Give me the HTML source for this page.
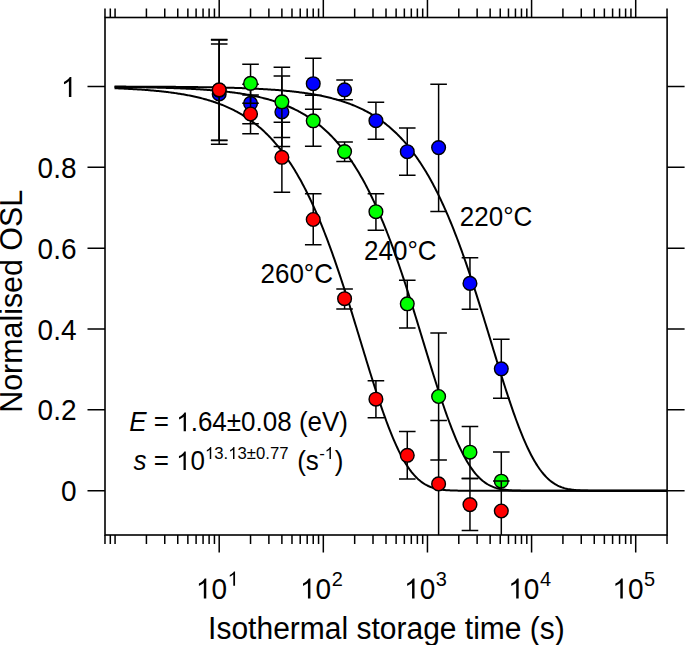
<!DOCTYPE html><html><head><meta charset="utf-8"><style>html,body{margin:0;padding:0;background:#fff;}svg{display:block;}text{font-family:"Liberation Sans",sans-serif;fill:#000;}.o{fill:none;}</style></head><body>
<svg width="685" height="645" viewBox="0 0 685 645">
<defs><clipPath id="pc"><rect x="105.00" y="17.50" width="562.10" height="517.50"/></clipPath><path id="one" d="M763 0L583 0L583 1147Q518 1085 412.5 1023Q307 961 223 930L223 1104Q374 1175 487 1276Q600 1377 647 1472L763 1472Z"/></defs>
<g fill="none" stroke="#000" stroke-width="2.00" stroke-linejoin="round">
<path d="M114.55 86.60L115.66 86.60L116.76 86.60L117.87 86.61L118.97 86.61L120.08 86.61L121.18 86.61L122.29 86.62L123.39 86.62L124.50 86.62L125.60 86.62L126.71 86.63L127.81 86.63L128.92 86.63L130.02 86.64L131.13 86.64L132.23 86.64L133.34 86.65L134.44 86.65L135.55 86.66L136.65 86.66L137.76 86.66L138.86 86.67L139.97 86.67L141.07 86.68L142.18 86.68L143.28 86.68L144.39 86.69L145.49 86.69L146.60 86.70L147.70 86.70L148.81 86.71L149.91 86.71L151.02 86.72L152.12 86.72L153.23 86.73L154.33 86.74L155.44 86.74L156.54 86.75L157.65 86.75L158.75 86.76L159.86 86.77L160.96 86.77L162.07 86.78L163.17 86.79L164.28 86.79L165.38 86.80L166.49 86.81L167.59 86.82L168.70 86.82L169.80 86.83L170.91 86.84L172.01 86.85L173.12 86.86L174.22 86.87L175.33 86.87L176.43 86.88L177.54 86.89L178.64 86.90L179.75 86.91L180.85 86.92L181.96 86.93L183.06 86.94L184.17 86.96L185.27 86.97L186.38 86.98L187.48 86.99L188.59 87.00L189.69 87.02L190.80 87.03L191.90 87.04L193.01 87.05L194.11 87.07L195.22 87.08L196.32 87.10L197.43 87.11L198.53 87.13L199.64 87.14L200.74 87.16L201.85 87.17L202.95 87.19L204.06 87.21L205.16 87.22L206.27 87.24L207.37 87.26L208.48 87.28L209.58 87.30L210.69 87.32L211.79 87.34L212.90 87.36L214.00 87.38L215.11 87.40L216.21 87.43L217.32 87.45L218.42 87.47L219.53 87.50L220.63 87.52L221.74 87.55L222.84 87.57L223.95 87.60L225.05 87.62L226.16 87.65L227.26 87.68L228.37 87.71L229.47 87.74L230.58 87.77L231.68 87.80L232.79 87.83L233.89 87.87L235.00 87.90L236.10 87.94L237.21 87.97L238.31 88.01L239.42 88.04L240.52 88.08L241.63 88.12L242.73 88.16L243.84 88.20L244.94 88.24L246.05 88.29L247.15 88.33L248.26 88.38L249.36 88.42L250.47 88.47L251.57 88.52L252.68 88.57L253.78 88.62L254.89 88.67L255.99 88.73L257.10 88.78L258.20 88.84L259.31 88.90L260.41 88.95L261.52 89.02L262.62 89.08L263.73 89.14L264.83 89.21L265.94 89.27L267.04 89.34L268.15 89.41L269.25 89.48L270.36 89.56L271.46 89.63L272.57 89.71L273.67 89.79L274.78 89.87L275.88 89.95L276.99 90.04L278.09 90.12L279.20 90.21L280.30 90.30L281.41 90.40L282.51 90.49L283.62 90.59L284.72 90.69L285.83 90.80L286.93 90.90L288.04 91.01L289.14 91.12L290.25 91.23L291.35 91.35L292.46 91.47L293.56 91.59L294.67 91.72L295.77 91.85L296.88 91.98L297.98 92.11L299.09 92.25L300.19 92.39L301.30 92.54L302.40 92.68L303.51 92.84L304.61 92.99L305.72 93.15L306.82 93.31L307.93 93.48L309.03 93.65L310.14 93.83L311.24 94.01L312.35 94.19L313.45 94.38L314.56 94.57L315.66 94.77L316.77 94.97L317.87 95.18L318.98 95.39L320.08 95.61L321.19 95.83L322.29 96.06L323.40 96.29L324.50 96.53L325.61 96.78L326.71 97.03L327.82 97.28L328.92 97.55L330.03 97.82L331.13 98.09L332.24 98.37L333.34 98.66L334.45 98.96L335.55 99.26L336.66 99.57L337.76 99.89L338.87 100.22L339.97 100.55L341.08 100.89L342.18 101.24L343.29 101.60L344.39 101.97L345.50 102.34L346.60 102.72L347.71 103.12L348.81 103.52L349.92 103.93L351.02 104.35L352.13 104.78L353.23 105.23L354.34 105.68L355.44 106.14L356.55 106.61L357.65 107.10L358.76 107.60L359.86 108.10L360.97 108.62L362.07 109.15L363.18 109.70L364.28 110.25L365.39 110.82L366.49 111.41L367.59 112.00L368.70 112.61L369.80 113.24L370.91 113.88L372.01 114.53L373.12 115.20L374.22 115.88L375.33 116.58L376.43 117.29L377.54 118.03L378.64 118.77L379.75 119.54L380.85 120.32L381.96 121.12L383.06 121.94L384.17 122.77L385.27 123.63L386.38 124.50L387.48 125.40L388.59 126.31L389.69 127.24L390.80 128.20L391.90 129.17L393.01 130.17L394.11 131.19L395.22 132.23L396.32 133.29L397.43 134.38L398.53 135.48L399.64 136.62L400.74 137.78L401.85 138.96L402.95 140.17L404.06 141.40L405.16 142.66L406.27 143.94L407.37 145.25L408.48 146.59L409.58 147.96L410.69 149.36L411.79 150.78L412.90 152.23L414.00 153.72L415.11 155.23L416.21 156.77L417.32 158.35L418.42 159.95L419.53 161.59L420.63 163.26L421.74 164.96L422.84 166.69L423.95 168.46L425.05 170.26L426.16 172.10L427.26 173.97L428.37 175.87L429.47 177.81L430.58 179.79L431.68 181.80L432.79 183.85L433.89 185.93L435.00 188.05L436.10 190.21L437.21 192.41L438.31 194.64L439.42 196.91L440.52 199.22L441.63 201.57L442.73 203.96L443.84 206.38L444.94 208.84L446.05 211.35L447.15 213.89L448.26 216.47L449.36 219.09L450.47 221.74L451.57 224.44L452.68 227.18L453.78 229.95L454.89 232.76L455.99 235.61L457.10 238.50L458.20 241.43L459.31 244.39L460.41 247.39L461.52 250.42L462.62 253.49L463.73 256.60L464.83 259.74L465.94 262.92L467.04 266.13L468.15 269.37L469.25 272.64L470.36 275.94L471.46 279.28L472.57 282.64L473.67 286.03L474.78 289.45L475.88 292.89L476.99 296.35L478.09 299.84L479.20 303.35L480.30 306.88L481.41 310.43L482.51 313.99L483.62 317.57L484.72 321.17L485.83 324.77L486.93 328.39L488.04 332.01L489.14 335.64L490.25 339.27L491.35 342.90L492.46 346.54L493.56 350.17L494.67 353.79L495.77 357.41L496.88 361.02L497.98 364.61L499.09 368.19L500.19 371.76L501.30 375.30L502.40 378.83L503.51 382.33L504.61 385.80L505.72 389.24L506.82 392.65L507.93 396.03L509.03 399.36L510.14 402.66L511.24 405.92L512.35 409.13L513.45 412.30L514.56 415.42L515.66 418.48L516.77 421.49L517.87 424.45L518.98 427.35L520.08 430.19L521.19 432.96L522.29 435.68L523.40 438.33L524.50 440.91L525.61 443.42L526.71 445.87L527.82 448.24L528.92 450.54L530.03 452.77L531.13 454.93L532.24 457.01L533.34 459.02L534.45 460.95L535.55 462.81L536.66 464.60L537.76 466.31L538.87 467.94L539.97 469.51L541.08 471.00L542.18 472.42L543.29 473.76L544.39 475.04L545.50 476.25L546.60 477.39L547.71 478.47L548.81 479.49L549.92 480.44L551.02 481.33L552.13 482.16L553.23 482.94L554.34 483.66L555.44 484.33L556.55 484.95L557.65 485.53L558.76 486.06L559.86 486.54L560.97 486.99L562.07 487.39L563.18 487.76L564.28 488.10L565.39 488.41L566.49 488.68L567.60 488.93L568.70 489.15L569.81 489.35L570.91 489.53L572.02 489.69L573.12 489.83L574.23 489.95L575.33 490.06L576.44 490.15L577.54 490.23L578.65 490.31L579.75 490.37L580.86 490.42L581.96 490.47L583.07 490.51L584.17 490.54L585.28 490.57L586.38 490.59L587.49 490.61L588.59 490.63L589.70 490.64L590.80 490.65L591.91 490.66L593.01 490.67L594.12 490.68L595.22 490.68L596.33 490.69L597.43 490.69L598.54 490.69L599.64 490.69L600.75 490.70L601.85 490.70L602.96 490.70L604.06 490.70L605.17 490.70L606.27 490.70L607.38 490.70L608.48 490.70L609.59 490.70L610.69 490.70L611.80 490.70L612.90 490.70L614.01 490.70L615.11 490.70L616.22 490.70L617.32 490.70L618.43 490.70L619.53 490.70L620.64 490.70L621.74 490.70L622.85 490.70L623.95 490.70L625.06 490.70L626.16 490.70L627.27 490.70L628.37 490.70L629.48 490.70L630.58 490.70L631.69 490.70L632.79 490.70L633.90 490.70L635.00 490.70L636.11 490.70L637.21 490.70L638.32 490.70L639.42 490.70L640.53 490.70L641.63 490.70L642.74 490.70L643.84 490.70L644.95 490.70L646.05 490.70L647.16 490.70L648.26 490.70L649.37 490.70L650.47 490.70L651.58 490.70L652.68 490.70L653.78 490.70L654.89 490.70L655.99 490.70L657.10 490.70L658.20 490.70L659.31 490.70L660.41 490.70L661.52 490.70L662.62 490.70L663.73 490.70L664.83 490.70L665.94 490.70L667.04 490.70"/>
<path d="M114.55 86.94L115.66 86.95L116.76 86.96L117.87 86.97L118.97 86.98L120.08 86.99L121.18 87.01L122.29 87.02L123.39 87.03L124.50 87.04L125.60 87.06L126.71 87.07L127.81 87.09L128.92 87.10L130.02 87.12L131.13 87.13L132.23 87.15L133.34 87.16L134.44 87.18L135.55 87.19L136.65 87.21L137.76 87.23L138.86 87.25L139.97 87.27L141.07 87.29L142.18 87.30L143.28 87.32L144.39 87.34L145.49 87.37L146.60 87.39L147.70 87.41L148.81 87.43L149.91 87.45L151.02 87.48L152.12 87.50L153.23 87.53L154.33 87.55L155.44 87.58L156.54 87.60L157.65 87.63L158.75 87.66L159.86 87.69L160.96 87.72L162.07 87.75L163.17 87.78L164.28 87.81L165.38 87.84L166.49 87.88L167.59 87.91L168.70 87.94L169.80 87.98L170.91 88.02L172.01 88.05L173.12 88.09L174.22 88.13L175.33 88.17L176.43 88.21L177.54 88.26L178.64 88.30L179.75 88.34L180.85 88.39L181.96 88.44L183.06 88.48L184.17 88.53L185.27 88.58L186.38 88.63L187.48 88.69L188.59 88.74L189.69 88.80L190.80 88.85L191.90 88.91L193.01 88.97L194.11 89.03L195.22 89.09L196.32 89.16L197.43 89.22L198.53 89.29L199.64 89.36L200.74 89.43L201.85 89.50L202.95 89.58L204.06 89.65L205.16 89.73L206.27 89.81L207.37 89.89L208.48 89.97L209.58 90.06L210.69 90.15L211.79 90.24L212.90 90.33L214.00 90.42L215.11 90.52L216.21 90.62L217.32 90.72L218.42 90.82L219.53 90.93L220.63 91.04L221.74 91.15L222.84 91.26L223.95 91.38L225.05 91.50L226.16 91.63L227.26 91.75L228.37 91.88L229.47 92.01L230.58 92.15L231.68 92.29L232.79 92.43L233.89 92.57L235.00 92.72L236.10 92.88L237.21 93.03L238.31 93.19L239.42 93.36L240.52 93.52L241.63 93.70L242.73 93.87L243.84 94.05L244.94 94.24L246.05 94.43L247.15 94.62L248.26 94.82L249.36 95.03L250.47 95.23L251.57 95.45L252.68 95.67L253.78 95.89L254.89 96.12L255.99 96.35L257.10 96.60L258.20 96.84L259.31 97.09L260.41 97.35L261.52 97.62L262.62 97.89L263.73 98.17L264.83 98.45L265.94 98.74L267.04 99.04L268.15 99.34L269.25 99.66L270.36 99.98L271.46 100.31L272.57 100.64L273.67 100.98L274.78 101.34L275.88 101.70L276.99 102.06L278.09 102.44L279.20 102.83L280.30 103.22L281.41 103.63L282.51 104.04L283.62 104.47L284.72 104.90L285.83 105.34L286.93 105.80L288.04 106.27L289.14 106.74L290.25 107.23L291.35 107.73L292.46 108.24L293.56 108.76L294.67 109.30L295.77 109.84L296.88 110.40L297.98 110.98L299.09 111.56L300.19 112.16L301.30 112.78L302.40 113.40L303.51 114.05L304.61 114.70L305.72 115.38L306.82 116.06L307.93 116.77L309.03 117.49L310.14 118.22L311.24 118.97L312.35 119.74L313.45 120.53L314.56 121.33L315.66 122.16L316.77 123.00L317.87 123.86L318.98 124.74L320.08 125.64L321.19 126.55L322.29 127.49L323.40 128.45L324.50 129.43L325.61 130.43L326.71 131.46L327.82 132.50L328.92 133.57L330.03 134.67L331.13 135.78L332.24 136.92L333.34 138.09L334.45 139.27L335.55 140.49L336.66 141.73L337.76 142.99L338.87 144.29L339.97 145.61L341.08 146.95L342.18 148.33L343.29 149.73L344.39 151.16L345.50 152.62L346.60 154.11L347.71 155.63L348.81 157.19L349.92 158.77L351.02 160.38L352.13 162.03L353.23 163.70L354.34 165.41L355.44 167.16L356.55 168.93L357.65 170.74L358.76 172.59L359.86 174.47L360.97 176.38L362.07 178.33L363.18 180.32L364.28 182.34L365.39 184.39L366.49 186.49L367.59 188.62L368.70 190.79L369.80 192.99L370.91 195.24L372.01 197.52L373.12 199.84L374.22 202.20L375.33 204.59L376.43 207.03L377.54 209.50L378.64 212.01L379.75 214.57L380.85 217.16L381.96 219.78L383.06 222.45L384.17 225.16L385.27 227.90L386.38 230.69L387.48 233.51L388.59 236.37L389.69 239.27L390.80 242.20L391.90 245.18L393.01 248.19L394.11 251.23L395.22 254.31L396.32 257.43L397.43 260.58L398.53 263.76L399.64 266.98L400.74 270.23L401.85 273.51L402.95 276.82L404.06 280.16L405.16 283.53L406.27 286.93L407.37 290.35L408.48 293.80L409.58 297.27L410.69 300.77L411.79 304.28L412.90 307.82L414.00 311.37L415.11 314.94L416.21 318.52L417.32 322.12L418.42 325.73L419.53 329.34L420.63 332.97L421.74 336.60L422.84 340.23L423.95 343.86L425.05 347.49L426.16 351.12L427.26 354.75L428.37 358.36L429.47 361.97L430.58 365.56L431.68 369.14L432.79 372.70L433.89 376.24L435.00 379.75L436.10 383.25L437.21 386.71L438.31 390.14L439.42 393.55L440.52 396.91L441.63 400.24L442.73 403.53L443.84 406.77L444.94 409.98L446.05 413.13L447.15 416.23L448.26 419.28L449.36 422.28L450.47 425.22L451.57 428.11L452.68 430.93L453.78 433.69L454.89 436.38L455.99 439.02L457.10 441.58L458.20 444.07L459.31 446.50L460.41 448.85L461.52 451.14L462.62 453.35L463.73 455.48L464.83 457.55L465.94 459.54L467.04 461.45L468.15 463.29L469.25 465.05L470.36 466.75L471.46 468.36L472.57 469.91L473.67 471.38L474.78 472.78L475.88 474.11L476.99 475.37L478.09 476.56L479.20 477.69L480.30 478.75L481.41 479.74L482.51 480.68L483.62 481.55L484.72 482.37L485.83 483.13L486.93 483.84L488.04 484.50L489.14 485.11L490.25 485.67L491.35 486.19L492.46 486.66L493.56 487.10L494.67 487.50L495.77 487.86L496.88 488.18L497.98 488.48L499.09 488.75L500.19 488.99L501.30 489.21L502.40 489.40L503.51 489.57L504.61 489.72L505.72 489.86L506.82 489.98L507.93 490.08L509.03 490.17L510.14 490.25L511.24 490.32L512.35 490.38L513.45 490.43L514.56 490.48L515.66 490.52L516.77 490.55L517.87 490.57L518.98 490.60L520.08 490.62L521.19 490.63L522.29 490.65L523.40 490.66L524.50 490.67L525.61 490.67L526.71 490.68L527.82 490.68L528.92 490.69L530.03 490.69L531.13 490.69L532.24 490.69L533.34 490.70L534.45 490.70L535.55 490.70L536.66 490.70L537.76 490.70L538.87 490.70L539.97 490.70L541.08 490.70L542.18 490.70L543.29 490.70L544.39 490.70L545.50 490.70L546.60 490.70L547.71 490.70L548.81 490.70L549.92 490.70L551.02 490.70L552.13 490.70L553.23 490.70L554.34 490.70L555.44 490.70L556.55 490.70L557.65 490.70L558.76 490.70L559.86 490.70L560.97 490.70L562.07 490.70L563.18 490.70L564.28 490.70L565.39 490.70L566.49 490.70L567.60 490.70L568.70 490.70L569.81 490.70L570.91 490.70L572.02 490.70L573.12 490.70L574.23 490.70L575.33 490.70L576.44 490.70L577.54 490.70L578.65 490.70L579.75 490.70L580.86 490.70L581.96 490.70L583.07 490.70L584.17 490.70L585.28 490.70L586.38 490.70L587.49 490.70L588.59 490.70L589.70 490.70L590.80 490.70L591.91 490.70L593.01 490.70L594.12 490.70L595.22 490.70L596.33 490.70L597.43 490.70L598.54 490.70L599.64 490.70L600.75 490.70L601.85 490.70L602.96 490.70L604.06 490.70L605.17 490.70L606.27 490.70L607.38 490.70L608.48 490.70L609.59 490.70L610.69 490.70L611.80 490.70L612.90 490.70L614.01 490.70L615.11 490.70L616.22 490.70L617.32 490.70L618.43 490.70L619.53 490.70L620.64 490.70L621.74 490.70L622.85 490.70L623.95 490.70L625.06 490.70L626.16 490.70L627.27 490.70L628.37 490.70L629.48 490.70L630.58 490.70L631.69 490.70L632.79 490.70L633.90 490.70L635.00 490.70L636.11 490.70L637.21 490.70L638.32 490.70L639.42 490.70L640.53 490.70L641.63 490.70L642.74 490.70L643.84 490.70L644.95 490.70L646.05 490.70L647.16 490.70L648.26 490.70L649.37 490.70L650.47 490.70L651.58 490.70L652.68 490.70L653.78 490.70L654.89 490.70L655.99 490.70L657.10 490.70L658.20 490.70L659.31 490.70L660.41 490.70L661.52 490.70L662.62 490.70L663.73 490.70L664.83 490.70L665.94 490.70L667.04 490.70"/>
<path d="M114.55 88.24L115.66 88.28L116.76 88.33L117.87 88.37L118.97 88.42L120.08 88.47L121.18 88.52L122.29 88.57L123.39 88.62L124.50 88.67L125.60 88.72L126.71 88.78L127.81 88.83L128.92 88.89L130.02 88.95L131.13 89.01L132.23 89.07L133.34 89.13L134.44 89.20L135.55 89.27L136.65 89.33L137.76 89.40L138.86 89.48L139.97 89.55L141.07 89.62L142.18 89.70L143.28 89.78L144.39 89.86L145.49 89.94L146.60 90.03L147.70 90.12L148.81 90.20L149.91 90.30L151.02 90.39L152.12 90.48L153.23 90.58L154.33 90.68L155.44 90.79L156.54 90.89L157.65 91.00L158.75 91.11L159.86 91.22L160.96 91.34L162.07 91.46L163.17 91.58L164.28 91.71L165.38 91.83L166.49 91.96L167.59 92.10L168.70 92.24L169.80 92.38L170.91 92.52L172.01 92.67L173.12 92.82L174.22 92.98L175.33 93.13L176.43 93.30L177.54 93.46L178.64 93.64L179.75 93.81L180.85 93.99L181.96 94.17L183.06 94.36L184.17 94.55L185.27 94.75L186.38 94.95L187.48 95.16L188.59 95.37L189.69 95.59L190.80 95.81L191.90 96.04L193.01 96.27L194.11 96.51L195.22 96.75L196.32 97.00L197.43 97.26L198.53 97.52L199.64 97.79L200.74 98.07L201.85 98.35L202.95 98.64L204.06 98.93L205.16 99.24L206.27 99.55L207.37 99.86L208.48 100.19L209.58 100.52L210.69 100.86L211.79 101.21L212.90 101.57L214.00 101.93L215.11 102.31L216.21 102.69L217.32 103.08L218.42 103.48L219.53 103.89L220.63 104.31L221.74 104.74L222.84 105.19L223.95 105.64L225.05 106.10L226.16 106.57L227.26 107.05L228.37 107.55L229.47 108.06L230.58 108.57L231.68 109.10L232.79 109.65L233.89 110.20L235.00 110.77L236.10 111.35L237.21 111.95L238.31 112.56L239.42 113.18L240.52 113.82L241.63 114.47L242.73 115.14L243.84 115.82L244.94 116.51L246.05 117.23L247.15 117.96L248.26 118.70L249.36 119.47L250.47 120.25L251.57 121.05L252.68 121.86L253.78 122.70L254.89 123.55L255.99 124.42L257.10 125.31L258.20 126.22L259.31 127.16L260.41 128.11L261.52 129.08L262.62 130.08L263.73 131.09L264.83 132.13L265.94 133.19L267.04 134.27L268.15 135.38L269.25 136.51L270.36 137.67L271.46 138.85L272.57 140.05L273.67 141.28L274.78 142.54L275.88 143.82L276.99 145.13L278.09 146.47L279.20 147.84L280.30 149.23L281.41 150.65L282.51 152.10L283.62 153.58L284.72 155.09L285.83 156.63L286.93 158.20L288.04 159.80L289.14 161.44L290.25 163.10L291.35 164.80L292.46 166.53L293.56 168.30L294.67 170.10L295.77 171.93L296.88 173.79L297.98 175.70L299.09 177.63L300.19 179.61L301.30 181.61L302.40 183.66L303.51 185.74L304.61 187.86L305.72 190.01L306.82 192.20L307.93 194.43L309.03 196.70L310.14 199.01L311.24 201.35L312.35 203.73L313.45 206.16L314.56 208.62L315.66 211.12L316.77 213.65L317.87 216.23L318.98 218.84L320.08 221.50L321.19 224.19L322.29 226.92L323.40 229.69L324.50 232.50L325.61 235.35L326.71 238.23L327.82 241.16L328.92 244.11L330.03 247.11L331.13 250.14L332.24 253.21L333.34 256.31L334.45 259.45L335.55 262.63L336.66 265.83L337.76 269.07L338.87 272.34L339.97 275.64L341.08 278.97L342.18 282.33L343.29 285.72L344.39 289.13L345.50 292.57L346.60 296.03L347.71 299.52L348.81 303.03L349.92 306.56L351.02 310.10L352.13 313.67L353.23 317.25L354.34 320.84L355.44 324.44L356.55 328.06L357.65 331.68L358.76 335.30L359.86 338.94L360.97 342.57L362.07 346.20L363.18 349.83L364.28 353.46L365.39 357.08L366.49 360.69L367.59 364.28L368.70 367.87L369.80 371.43L370.91 374.98L372.01 378.50L373.12 382.01L374.22 385.48L375.33 388.93L376.43 392.34L377.54 395.72L378.64 399.06L379.75 402.36L380.85 405.62L381.96 408.84L383.06 412.01L384.17 415.13L385.27 418.20L386.38 421.22L387.48 424.18L388.59 427.09L389.69 429.93L390.80 432.71L391.90 435.43L393.01 438.09L394.11 440.67L395.22 443.19L396.32 445.64L397.43 448.02L398.53 450.33L399.64 452.57L400.74 454.73L401.85 456.82L402.95 458.84L404.06 460.78L405.16 462.64L406.27 464.44L407.37 466.15L408.48 467.80L409.58 469.37L410.69 470.86L411.79 472.29L412.90 473.64L414.00 474.93L415.11 476.14L416.21 477.29L417.32 478.38L418.42 479.40L419.53 480.35L420.63 481.25L421.74 482.09L422.84 482.87L423.95 483.60L425.05 484.27L426.16 484.90L427.26 485.48L428.37 486.01L429.47 486.50L430.58 486.95L431.68 487.36L432.79 487.73L433.89 488.07L435.00 488.38L436.10 488.66L437.21 488.91L438.31 489.13L439.42 489.33L440.52 489.51L441.63 489.67L442.73 489.81L443.84 489.94L444.94 490.05L446.05 490.14L447.15 490.23L448.26 490.30L449.36 490.36L450.47 490.42L451.57 490.46L452.68 490.50L453.78 490.54L454.89 490.57L455.99 490.59L457.10 490.61L458.20 490.63L459.31 490.64L460.41 490.65L461.52 490.66L462.62 490.67L463.73 490.68L464.83 490.68L465.94 490.69L467.04 490.69L468.15 490.69L469.25 490.69L470.36 490.69L471.46 490.70L472.57 490.70L473.67 490.70L474.78 490.70L475.88 490.70L476.99 490.70L478.09 490.70L479.20 490.70L480.30 490.70L481.41 490.70L482.51 490.70L483.62 490.70L484.72 490.70L485.83 490.70L486.93 490.70L488.04 490.70L489.14 490.70L490.25 490.70L491.35 490.70L492.46 490.70L493.56 490.70L494.67 490.70L495.77 490.70L496.88 490.70L497.98 490.70L499.09 490.70L500.19 490.70L501.30 490.70L502.40 490.70L503.51 490.70L504.61 490.70L505.72 490.70L506.82 490.70L507.93 490.70L509.03 490.70L510.14 490.70L511.24 490.70L512.35 490.70L513.45 490.70L514.56 490.70L515.66 490.70L516.77 490.70L517.87 490.70L518.98 490.70L520.08 490.70L521.19 490.70L522.29 490.70L523.40 490.70L524.50 490.70L525.61 490.70L526.71 490.70L527.82 490.70L528.92 490.70L530.03 490.70L531.13 490.70L532.24 490.70L533.34 490.70L534.45 490.70L535.55 490.70L536.66 490.70L537.76 490.70L538.87 490.70L539.97 490.70L541.08 490.70L542.18 490.70L543.29 490.70L544.39 490.70L545.50 490.70L546.60 490.70L547.71 490.70L548.81 490.70L549.92 490.70L551.02 490.70L552.13 490.70L553.23 490.70L554.34 490.70L555.44 490.70L556.55 490.70L557.65 490.70L558.76 490.70L559.86 490.70L560.97 490.70L562.07 490.70L563.18 490.70L564.28 490.70L565.39 490.70L566.49 490.70L567.60 490.70L568.70 490.70L569.81 490.70L570.91 490.70L572.02 490.70L573.12 490.70L574.23 490.70L575.33 490.70L576.44 490.70L577.54 490.70L578.65 490.70L579.75 490.70L580.86 490.70L581.96 490.70L583.07 490.70L584.17 490.70L585.28 490.70L586.38 490.70L587.49 490.70L588.59 490.70L589.70 490.70L590.80 490.70L591.91 490.70L593.01 490.70L594.12 490.70L595.22 490.70L596.33 490.70L597.43 490.70L598.54 490.70L599.64 490.70L600.75 490.70L601.85 490.70L602.96 490.70L604.06 490.70L605.17 490.70L606.27 490.70L607.38 490.70L608.48 490.70L609.59 490.70L610.69 490.70L611.80 490.70L612.90 490.70L614.01 490.70L615.11 490.70L616.22 490.70L617.32 490.70L618.43 490.70L619.53 490.70L620.64 490.70L621.74 490.70L622.85 490.70L623.95 490.70L625.06 490.70L626.16 490.70L627.27 490.70L628.37 490.70L629.48 490.70L630.58 490.70L631.69 490.70L632.79 490.70L633.90 490.70L635.00 490.70L636.11 490.70L637.21 490.70L638.32 490.70L639.42 490.70L640.53 490.70L641.63 490.70L642.74 490.70L643.84 490.70L644.95 490.70L646.05 490.70L647.16 490.70L648.26 490.70L649.37 490.70L650.47 490.70L651.58 490.70L652.68 490.70L653.78 490.70L654.89 490.70L655.99 490.70L657.10 490.70L658.20 490.70L659.31 490.70L660.41 490.70L661.52 490.70L662.62 490.70L663.73 490.70L664.83 490.70L665.94 490.70L667.04 490.70"/>
</g>
<g clip-path="url(#pc)">
<path d="M219.20 43.90V144.30M250.54 84.30V123.80M281.89 76.10V146.50M313.23 58.20V109.20M344.58 80.10V99.80M375.92 102.20V139.20M407.27 128.00V175.30M438.61 84.20V211.40M469.96 257.80V309.20M501.30 339.30V398.20" stroke="#000" stroke-width="1.50" fill="none"/>
<path d="M210.90 43.90H227.50M210.90 144.30H227.50M242.24 84.30H258.84M242.24 123.80H258.84M273.59 76.10H290.19M273.59 146.50H290.19M304.93 58.20H321.53M304.93 109.20H321.53M336.28 80.10H352.88M336.28 99.80H352.88M367.62 102.20H384.22M367.62 139.20H384.22M398.97 128.00H415.57M398.97 175.30H415.57M430.31 84.20H446.91M430.31 211.40H446.91M461.66 257.80H478.26M461.66 309.20H478.26M493.00 339.30H509.60M493.00 398.20H509.60" stroke="#000" stroke-width="1.50" fill="none"/>
<g fill="#0000ff" stroke="#000" stroke-width="1.40"><circle cx="219.20" cy="94.00" r="6.85"/><circle cx="250.54" cy="103.30" r="6.85"/><circle cx="281.89" cy="112.00" r="6.85"/><circle cx="313.23" cy="83.70" r="6.85"/><circle cx="344.58" cy="89.80" r="6.85"/><circle cx="375.92" cy="120.70" r="6.85"/><circle cx="407.27" cy="151.70" r="6.85"/><circle cx="438.61" cy="147.60" r="6.85"/><circle cx="469.96" cy="283.40" r="6.85"/><circle cx="501.30" cy="368.80" r="6.85"/></g>
<path d="M219.20 39.90V140.50M250.54 64.30V103.20M281.89 67.30V137.40M313.23 95.30V146.30M344.58 141.90V161.50M375.92 193.70V230.30M407.27 280.20V328.00M438.61 333.10V460.00M469.96 426.60V478.40M501.30 451.90V481.20" stroke="#000" stroke-width="1.50" fill="none"/>
<path d="M210.90 39.90H227.50M210.90 140.50H227.50M242.24 64.30H258.84M242.24 103.20H258.84M273.59 67.30H290.19M273.59 137.40H290.19M304.93 95.30H321.53M304.93 146.30H321.53M336.28 141.90H352.88M336.28 161.50H352.88M367.62 193.70H384.22M367.62 230.30H384.22M398.97 280.20H415.57M398.97 328.00H415.57M430.31 333.10H446.91M430.31 460.00H446.91M461.66 426.60H478.26M461.66 478.40H478.26M493.00 451.90H509.60" stroke="#000" stroke-width="1.50" fill="none"/>
<g fill="#00ff00" stroke="#000" stroke-width="1.40"><circle cx="219.20" cy="90.20" r="6.85"/><circle cx="250.54" cy="83.40" r="6.85"/><circle cx="281.89" cy="101.80" r="6.85"/><circle cx="313.23" cy="120.80" r="6.85"/><circle cx="344.58" cy="151.60" r="6.85"/><circle cx="375.92" cy="211.70" r="6.85"/><circle cx="407.27" cy="303.80" r="6.85"/><circle cx="438.61" cy="396.50" r="6.85"/><circle cx="469.96" cy="452.20" r="6.85"/><circle cx="501.30" cy="481.20" r="6.85"/></g>
<path d="M219.20 39.60V140.20M250.54 94.90V133.80M281.89 122.20V192.20M313.23 193.80V244.70M344.58 288.90V308.90M375.92 380.80V417.80M407.27 431.50V478.90M438.61 420.50V547.50M469.96 478.60V530.40M501.30 480.90V539.90" stroke="#000" stroke-width="1.50" fill="none"/>
<path d="M210.90 39.60H227.50M210.90 140.20H227.50M242.24 94.90H258.84M242.24 133.80H258.84M273.59 122.20H290.19M273.59 192.20H290.19M304.93 193.80H321.53M304.93 244.70H321.53M336.28 288.90H352.88M336.28 308.90H352.88M367.62 380.80H384.22M367.62 417.80H384.22M398.97 431.50H415.57M398.97 478.90H415.57M430.31 420.50H446.91M461.66 478.60H478.26M461.66 530.40H478.26M493.00 480.90H509.60" stroke="#000" stroke-width="1.50" fill="none"/>
<g fill="#ff0000" stroke="#000" stroke-width="1.40"><circle cx="219.20" cy="89.80" r="6.85"/><circle cx="250.54" cy="114.00" r="6.85"/><circle cx="281.89" cy="157.30" r="6.85"/><circle cx="313.23" cy="219.50" r="6.85"/><circle cx="344.58" cy="298.70" r="6.85"/><circle cx="375.92" cy="399.20" r="6.85"/><circle cx="407.27" cy="455.30" r="6.85"/><circle cx="438.61" cy="483.90" r="6.85"/><circle cx="469.96" cy="504.60" r="6.85"/><circle cx="501.30" cy="511.00" r="6.85"/></g>
</g>
<rect x="105.00" y="17.50" width="562.10" height="517.50" fill="none" stroke="#000" stroke-width="1.60"/>
<path d="M104.98 535.00V544.00M104.98 17.50V8.50M110.31 535.00V544.00M110.31 17.50V8.50M115.07 535.00V544.00M115.07 17.50V8.50M146.42 535.00V544.00M146.42 17.50V8.50M164.76 535.00V544.00M164.76 17.50V8.50M177.76 535.00V544.00M177.76 17.50V8.50M187.86 535.00V544.00M187.86 17.50V8.50M196.10 535.00V544.00M196.10 17.50V8.50M203.07 535.00V544.00M203.07 17.50V8.50M209.11 535.00V544.00M209.11 17.50V8.50M214.44 535.00V544.00M214.44 17.50V8.50M219.20 535.00V552.50M219.20 17.50V0.00M250.54 535.00V544.00M250.54 17.50V8.50M268.88 535.00V544.00M268.88 17.50V8.50M281.89 535.00V544.00M281.89 17.50V8.50M291.98 535.00V544.00M291.98 17.50V8.50M300.22 535.00V544.00M300.22 17.50V8.50M307.20 535.00V544.00M307.20 17.50V8.50M313.23 535.00V544.00M313.23 17.50V8.50M318.56 535.00V544.00M318.56 17.50V8.50M323.32 535.00V552.50M323.32 17.50V0.00M354.67 535.00V544.00M354.67 17.50V8.50M373.01 535.00V544.00M373.01 17.50V8.50M386.01 535.00V544.00M386.01 17.50V8.50M396.11 535.00V544.00M396.11 17.50V8.50M404.35 535.00V544.00M404.35 17.50V8.50M411.32 535.00V544.00M411.32 17.50V8.50M417.36 535.00V544.00M417.36 17.50V8.50M422.69 535.00V544.00M422.69 17.50V8.50M427.45 535.00V552.50M427.45 17.50V0.00M458.79 535.00V544.00M458.79 17.50V8.50M477.13 535.00V544.00M477.13 17.50V8.50M490.14 535.00V544.00M490.14 17.50V8.50M500.23 535.00V544.00M500.23 17.50V8.50M508.47 535.00V544.00M508.47 17.50V8.50M515.45 535.00V544.00M515.45 17.50V8.50M521.48 535.00V544.00M521.48 17.50V8.50M526.81 535.00V544.00M526.81 17.50V8.50M531.58 535.00V552.50M531.58 17.50V0.00M562.92 535.00V544.00M562.92 17.50V8.50M581.26 535.00V544.00M581.26 17.50V8.50M594.26 535.00V544.00M594.26 17.50V8.50M604.36 535.00V544.00M604.36 17.50V8.50M612.60 535.00V544.00M612.60 17.50V8.50M619.57 535.00V544.00M619.57 17.50V8.50M625.61 535.00V544.00M625.61 17.50V8.50M630.94 535.00V544.00M630.94 17.50V8.50M635.70 535.00V552.50M635.70 17.50V0.00M667.04 535.00V544.00M667.04 17.50V8.50M105.00 490.70H87.50M667.10 490.70H684.60M105.00 409.86H87.50M667.10 409.86H684.60M105.00 329.02H87.50M667.10 329.02H684.60M105.00 248.18H87.50M667.10 248.18H684.60M105.00 167.34H87.50M667.10 167.34H684.60M105.00 86.50H87.50M667.10 86.50H684.60" stroke="#000" stroke-width="1.50" fill="none"/>
<text transform="translate(76.50 501.20) scale(1 1.0405)" font-size="28.00" text-anchor="end">0</text>
<text transform="translate(76.50 420.36) scale(1 1.0405)" font-size="28.00" text-anchor="end">0.2</text>
<text transform="translate(76.50 339.52) scale(1 1.0405)" font-size="28.00" text-anchor="end">0.4</text>
<text transform="translate(76.50 258.68) scale(1 1.0405)" font-size="28.00" text-anchor="end">0.6</text>
<text transform="translate(76.50 177.84) scale(1 1.0405)" font-size="28.00" text-anchor="end">0.8</text>
<text transform="translate(76.50 97.00) scale(1 1.0405)" font-size="28.00" text-anchor="end"><tspan class="o">1</tspan></text>
<text transform="translate(195.85 598.60) scale(1 1.0405)" font-size="28.00"><tspan class="o">1</tspan>0<tspan dx="0.60" dy="-12.30" font-size="20.00"><tspan class="o">1</tspan></tspan></text>
<text transform="translate(299.97 598.60) scale(1 1.0405)" font-size="28.00"><tspan class="o">1</tspan>0<tspan dx="0.60" dy="-12.30" font-size="20.00">2</tspan></text>
<text transform="translate(404.10 598.60) scale(1 1.0405)" font-size="28.00"><tspan class="o">1</tspan>0<tspan dx="0.60" dy="-12.30" font-size="20.00">3</tspan></text>
<text transform="translate(508.23 598.60) scale(1 1.0405)" font-size="28.00"><tspan class="o">1</tspan>0<tspan dx="0.60" dy="-12.30" font-size="20.00">4</tspan></text>
<text transform="translate(612.35 598.60) scale(1 1.0405)" font-size="28.00"><tspan class="o">1</tspan>0<tspan dx="0.60" dy="-12.30" font-size="20.00">5</tspan></text>
<text transform="translate(208.10 638.60) scale(1 1.0405)" font-size="30.00">Isothermal storage time (s)</text>
<text transform="translate(21.8 412.8) rotate(-90) scale(1 1.0405)" font-size="30.40">Normalised OSL</text>
<text transform="translate(459.80 225.90) scale(1 1.0405)" font-size="26.00">220°C</text>
<text transform="translate(364.10 259.70) scale(1 1.0405)" font-size="26.00">240°C</text>
<text transform="translate(260.50 282.90) scale(1 1.0405)" font-size="26.00">260°C</text>
<text transform="translate(129.30 431.30) scale(1 1.0405)" font-size="26.00"><tspan font-style="italic">E</tspan> = <tspan class="o">1</tspan>.64±0.08 (eV)</text>
<text transform="translate(133.50 470.10) scale(1 1.0405)" font-size="26.00"><tspan font-style="italic">s</tspan> = <tspan class="o">1</tspan>0<tspan dy="-10.57" font-size="16.70"><tspan class="o">1</tspan>3.<tspan class="o">1</tspan>3±0.77</tspan><tspan dx="1.50" dy="10.57"> (s</tspan><tspan dx="0.30" dy="-10.57" font-size="16.70">-<tspan class="o">1</tspan></tspan><tspan dx="0.80" dy="10.57">)</tspan></text>
<g fill="#000"><use href="#one" transform="translate(60.928 97.000) scale(0.01367 -0.01367)"/><use href="#one" transform="translate(195.850 598.600) scale(0.01367 -0.01367)"/><use href="#one" transform="translate(227.594 585.802) scale(0.00977 -0.00977)"/><use href="#one" transform="translate(299.970 598.600) scale(0.01367 -0.01367)"/><use href="#one" transform="translate(404.100 598.600) scale(0.01367 -0.01367)"/><use href="#one" transform="translate(508.230 598.600) scale(0.01367 -0.01367)"/><use href="#one" transform="translate(612.350 598.600) scale(0.01367 -0.01367)"/><use href="#one" transform="translate(176.246 431.300) scale(0.01270 -0.01270)"/><use href="#one" transform="translate(176.113 470.100) scale(0.01270 -0.01270)"/><use href="#one" transform="translate(205.022 459.102) scale(0.00815 -0.00815)"/><use href="#one" transform="translate(228.250 459.102) scale(0.00815 -0.00815)"/><use href="#one" transform="translate(324.708 459.102) scale(0.00815 -0.00815)"/></g>
</svg></body></html>
